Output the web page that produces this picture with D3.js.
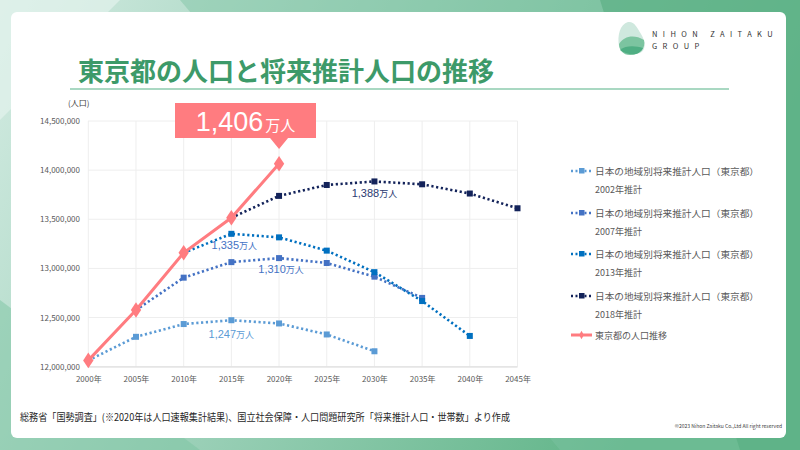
<!DOCTYPE html>
<html><head><meta charset="utf-8">
<script src="https://cdn.jsdelivr.net/npm/d3@7"></script>
<style>body{margin:0;background:#fff}svg{display:block}text{font-family:"Noto Sans CJK JP","Noto Sans",sans-serif}</style>
</head><body><svg id="c" width="800" height="450"></svg>
<script>
const years = ["2000","2005","2010","2015","2020","2025","2030","2035","2040","2045"];
const yTicks = [12000000,12500000,13000000,13500000,14000000,14500000];
const actual = [[2000,12064101],[2005,12576601],[2010,13159388],[2015,13515271],[2020,14064696]];
const proj2002 = [[2000,12064101],[2005,12304000],[2010,12434000],[2015,12473000],[2020,12440000],[2025,12328000],[2030,12157000]];
const proj2007 = [[2005,12576601],[2010,12906000],[2015,13064000],[2020,13105000],[2025,13055000],[2030,12916000],[2035,12700000]];
const proj2013 = [[2010,13159388],[2015,13352000],[2020,13316000],[2025,13181000],[2030,12962000],[2035,12668000],[2040,12313000]];
const proj2018 = [[2015,13515271],[2020,13738000],[2025,13849000],[2030,13885000],[2035,13856000],[2040,13762000],[2045,13612000]];
const seriesNames = ["日本の地域別将来推計人口（東京都）","日本の地域別将来推計人口（東京都）","日本の地域別将来推計人口（東京都）","日本の地域別将来推計人口（東京都）","東京都の人口推移"];
const seriesSub = ["2002年推計","2007年推計","2013年推計","2018年推計",""];
const colors = ["#5b9bd5","#4472c4","#0070c0","#13235a","#ff7c80"];
const labels = [
  {year:2015, v:12473000, num:"1,247", col:"#5b9bd5", dx:0, dy:18},
  {year:2015, v:13352000, num:"1,335", col:"#4472c4", dx:3, dy:15},
  {year:2020, v:13105000, num:"1,310", col:"#4472c4", dx:2, dy:15},
  {year:2030, v:13885000, num:"1,388", col:"#2a3a70", dx:0, dy:16}
];
const callout = {year:2020, num:"1,406", unit:"万人"};

const svg = d3.select("#c");
// background
const defs = svg.append("defs");
const g1 = defs.append("linearGradient").attr("id","bg").attr("x1","0").attr("y1","0").attr("x2","1").attr("y2","0.3");
g1.append("stop").attr("offset","0").attr("stop-color","#d3ebe2");
g1.append("stop").attr("offset","0.45").attr("stop-color","#9fd2bb");
g1.append("stop").attr("offset","1").attr("stop-color","#5fb487");
svg.append("rect").attr("width",800).attr("height",450).attr("fill","url(#bg)");
svg.append("polygon").attr("points","180,0 800,0 800,450 560,450").attr("fill","#7cc3a2").attr("opacity",0.45);
svg.append("polygon").attr("points","600,0 800,0 800,450 740,450").attr("fill","#56ae80").attr("opacity",0.6);
svg.append("polygon").attr("points","0,0 120,0 0,120").attr("fill","#e2f2ec").attr("opacity",0.7);
svg.append("polygon").attr("points","0,300 0,450 200,450").attr("fill","#7cc3a2").attr("opacity",0.5);
svg.append("rect").attr("x",11).attr("y",12).attr("width",775).attr("height",426).attr("rx",6).attr("fill","#fff");

// title
svg.append("text").attr("x",78).attr("y",81).attr("font-size",26).attr("font-weight",700).attr("fill","#3d9a69").text("東京都の人口と将来推計人口の推移");
svg.append("line").attr("x1",70).attr("x2",729).attr("y1",89).attr("y2",89).attr("stroke","#a9d8c2").attr("stroke-width",2);

// logo
const lg = svg.append("g");
lg.append("path").attr("d","M628,22 C620,24 617,36 619,46 C621,54 632,56 640,53 C646,50 646,42 641,34 C637,27 634,21 628,22Z").attr("fill","#cfe8de");
lg.append("path").attr("d","M619,44 C624,36 634,34 644,40 C646,48 640,55 630,55 C623,55 619,50 619,44Z").attr("fill","#7cc4a0");
lg.append("path").attr("d","M620,50 C626,45 636,46 643,48 C640,55 630,57 620,50Z").attr("fill","#4fae83");
svg.append("text").attr("x",652).attr("y",37).attr("font-size",7.5).attr("letter-spacing",5.4).attr("fill","#333").attr("font-family","DejaVu Sans").text("NIHON ZAITAKU");
svg.append("text").attr("x",652).attr("y",49).attr("font-size",7.5).attr("letter-spacing",5.4).attr("fill","#333").attr("font-family","DejaVu Sans").text("GROUP");

// scales
const x = d3.scalePoint().domain(years).range([88.3,517.5]);
const y = d3.scaleLinear().domain([12000000,14500000]).range([366.7,121]);
const X = yr => x(String(yr));

// grid
svg.append("g").selectAll("line").data(yTicks).join("line")
  .attr("x1",88).attr("x2",517.5).attr("y1",d=>y(d)).attr("y2",d=>y(d)).attr("stroke","#eeeeee").attr("stroke-width",1);
svg.append("g").selectAll("line").data(years).join("line")
  .attr("x1",d=>x(d)).attr("x2",d=>x(d)).attr("y1",121).attr("y2",366.7).attr("stroke","#eeeeee").attr("stroke-width",1);
svg.append("line").attr("x1",88).attr("x2",517.5).attr("y1",367).attr("y2",367).attr("stroke","#d9d9d9");

// axes
const yAxis = d3.axisLeft(y).tickValues(yTicks).tickSize(0).tickPadding(8).tickFormat(d3.format(","));
const ya = svg.append("g").attr("transform","translate(88,0)").call(yAxis);
ya.select(".domain").remove();
ya.selectAll("text").attr("font-size",8).attr("fill","#595959").attr("font-family","Liberation Sans");
const xAxis = d3.axisBottom(x).tickSize(0).tickPadding(9).tickFormat(d=>d+"年");
const xa = svg.append("g").attr("transform","translate(0,367)").call(xAxis);
xa.select(".domain").remove();
xa.selectAll("text").attr("font-size",8).attr("fill","#595959");
svg.append("text").attr("x",68).attr("y",106).attr("font-size",8).attr("fill","#404040").text("(人口)");

// lines
const line = d3.line().x(d=>X(d[0])).y(d=>y(d[1]));
const projs = [proj2002,proj2007,proj2013,proj2018];
projs.forEach((p,i)=>{
  svg.append("path").attr("d",line(p)).attr("fill","none").attr("stroke",colors[i]).attr("stroke-width",2.6).attr("stroke-dasharray","2.2 2.6");
  svg.append("g").selectAll("rect").data(p.slice(1)).join("rect")
    .attr("x",d=>X(d[0])-3).attr("y",d=>y(d[1])-3).attr("width",6).attr("height",6).attr("fill",colors[i]);
});
svg.append("path").attr("d",line(actual)).attr("fill","none").attr("stroke",colors[4]).attr("stroke-width",3);
svg.append("g").selectAll("path").data(actual).join("path")
  .attr("d",d3.symbol().type(d3.symbolDiamond).size(70))
  .attr("transform",d=>`translate(${X(d[0])},${y(d[1])}) scale(1.15,1)`).attr("fill",colors[4]);

// data labels
labels.forEach(l=>{
  const t = svg.append("text").attr("x",X(l.year)+l.dx).attr("y",y(l.v)+l.dy).attr("text-anchor","middle").attr("fill",l.col);
  t.append("tspan").attr("font-size",11).attr("font-family","Liberation Sans").text(l.num);
  t.append("tspan").attr("font-size",9).text("万人");
});

// callout
const cx = X(callout.year);
svg.append("path").attr("d",`M175,103 H316 V138 H${cx+9} L${cx},149 L${cx-9},138 H175 Z`).attr("fill","#ff7c80");
const ct = svg.append("text").attr("x",245.5).attr("y",131).attr("text-anchor","middle").attr("fill","#fff");
ct.append("tspan").attr("font-size",27).attr("font-family","Liberation Sans").text(callout.num);
ct.append("tspan").attr("font-size",15).attr("dx",2).text(callout.unit);

// legend
const legY = [171,213,254,296,335];
legY.forEach((ly,i)=>{
  const lg2 = svg.append("g");
  if(i<4){
    lg2.append("line").attr("x1",571).attr("x2",593).attr("y1",ly).attr("y2",ly).attr("stroke",colors[i]).attr("stroke-width",2.4).attr("stroke-dasharray","2 2.5");
    lg2.append("rect").attr("x",579).attr("y",ly-3).attr("width",5.5).attr("height",5.5).attr("fill",colors[i]);
  } else {
    lg2.append("line").attr("x1",571).attr("x2",592).attr("y1",ly).attr("y2",ly).attr("stroke",colors[i]).attr("stroke-width",3);
    lg2.append("path").attr("d",d3.symbol().type(d3.symbolDiamond).size(20)).attr("transform",`translate(581.5,${ly})`).attr("fill",colors[i]);
  }
  const tt = lg2.append("text").attr("x",595).attr("y",ly+3.5).attr("font-size",9).attr("fill","#595959").text(seriesNames[i]);
  if(i<4) tt.attr("textLength",164).attr("lengthAdjust","spacingAndGlyphs");
  if(seriesSub[i]) lg2.append("text").attr("x",595).attr("y",ly+22).attr("font-size",9).attr("fill","#595959").text(seriesSub[i]);
});

// footer
svg.append("text").attr("x",20).attr("y",421).attr("font-size",10).attr("fill","#262626")
  .attr("textLength",490).attr("lengthAdjust","spacingAndGlyphs")
  .text("総務省「国勢調査」(※2020年は人口速報集計結果)、国立社会保障・人口問題研究所「将来推計人口・世帯数」より作成");
svg.append("text").attr("x",782).attr("y",428).attr("text-anchor","end").attr("font-size",5).attr("fill","#404040").attr("font-family","Liberation Sans Narrow, Liberation Sans")
  .text("©2023 Nihon Zaitaku Co.,Ltd All right reserved");
</script></body></html>
